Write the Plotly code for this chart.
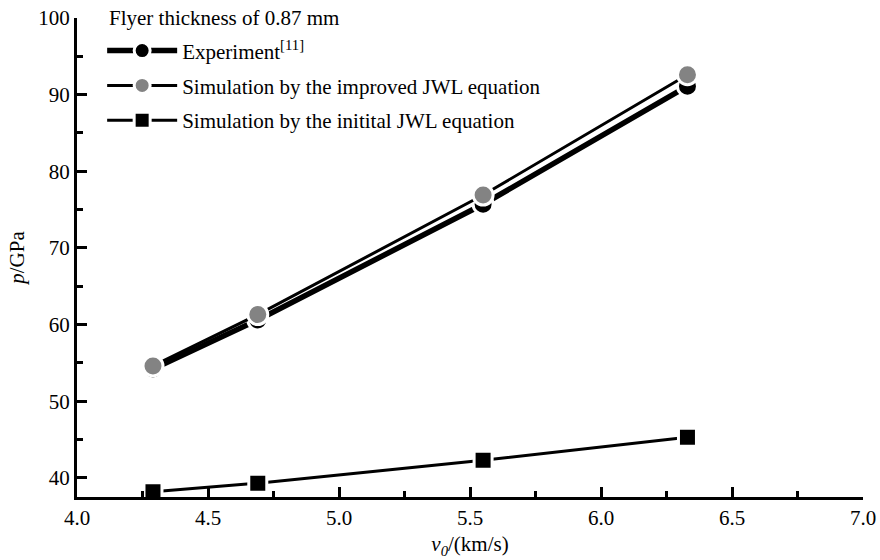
import plotly.graph_objects as go

v0 = [4.29, 4.69, 5.55, 6.33]
p_experiment = [54.2, 60.6, 75.7, 91.1]
p_improved = [54.6, 61.3, 76.9, 92.6]
p_initial = [38.2, 39.3, 42.3, 45.3]

names = ["Experiment<sup>[11]</sup>",
         "Simulation by the improved JWL equation",
         "Simulation by the initital JWL equation"]
legend_title = "Flyer thickness of 0.87 mm"
x_ticks = [4.0, 4.5, 5.0, 5.5, 6.0, 6.5, 7.0]
y_ticks = [40, 50, 60, 70, 80, 90, 100]

FONT = "Liberation Serif"
FS = 21

fig = go.Figure()
fig.add_trace(go.Scatter(x=v0, y=p_experiment, name=names[0], mode="lines+markers",
                         line=dict(color="black", width=5.5),
                         marker=dict(symbol="circle", size=20, color="black",
                                     line=dict(color="white", width=3)),
                         legendgroup="a"))
fig.add_trace(go.Scatter(x=v0, y=p_improved, name=names[1], mode="lines+markers",
                         line=dict(color="black", width=3),
                         marker=dict(symbol="circle", size=20, color="#838383",
                                     line=dict(color="white", width=3)),
                         legendgroup="b"))
fig.add_trace(go.Scatter(x=v0, y=p_initial, name=names[2], mode="lines+markers",
                         line=dict(color="black", width=3),
                         marker=dict(symbol="square", size=18, color="black",
                                     line=dict(color="white", width=3)),
                         legendgroup="c"))

axis_common = dict(showline=True, linecolor="black", linewidth=3, ticks="inside",
                   tickcolor="black", tickwidth=2.5, ticklen=10, showgrid=False,
                   zeroline=False, mirror=False, automargin=False,
                   tickfont=dict(family=FONT, size=FS, color="black"))

fig.update_xaxes(range=[4.0, 7.0], tickvals=x_ticks, ticktext=[f"{t:.1f}" for t in x_ticks],
                 minor=dict(ticks="inside", dtick=0.25, tick0=4.0, ticklen=6, tickwidth=2.5,
                            tickcolor="black"),
                 title=dict(text="<i>v</i><sub><i>0</i></sub>/(km/s)",
                            font=dict(family=FONT, size=FS, color="black"), standoff=8),
                 **axis_common)
fig.update_yaxes(range=[37.5, 100], tickvals=y_ticks,
                 minor=dict(ticks="inside", dtick=5, tick0=0, ticklen=6, tickwidth=2.5,
                            tickcolor="black"),
                 title=dict(text="<i>p</i>/GPa", font=dict(family=FONT, size=FS, color="black"),
                            standoff=8),
                 **axis_common)

fig.update_layout(
    width=880, height=560,
    margin=dict(l=77, r=17, t=18, b=63),
    plot_bgcolor="white", paper_bgcolor="white",
    font=dict(family=FONT, size=FS, color="black"),
    showlegend=True,
    legend=dict(x=0.032, y=0.974, xanchor="left", yanchor="top",
                bgcolor="rgba(0,0,0,0)", borderwidth=0,
                font=dict(family=FONT, size=FS, color="black"),
                tracegroupgap=4.5, itemwidth=70),
    annotations=[dict(text=legend_title, xref="paper", yref="paper", x=0.038, y=1.0,
                      xanchor="left", yanchor="middle", showarrow=False,
                      font=dict(family=FONT, size=FS, color="black"))],
)

# remove the default 8px page margin so the 880x560 figure fills the window exactly
fig.write_html("out.html", config={"displayModeBar": False},
               post_script="document.body.style.margin='0px';")
